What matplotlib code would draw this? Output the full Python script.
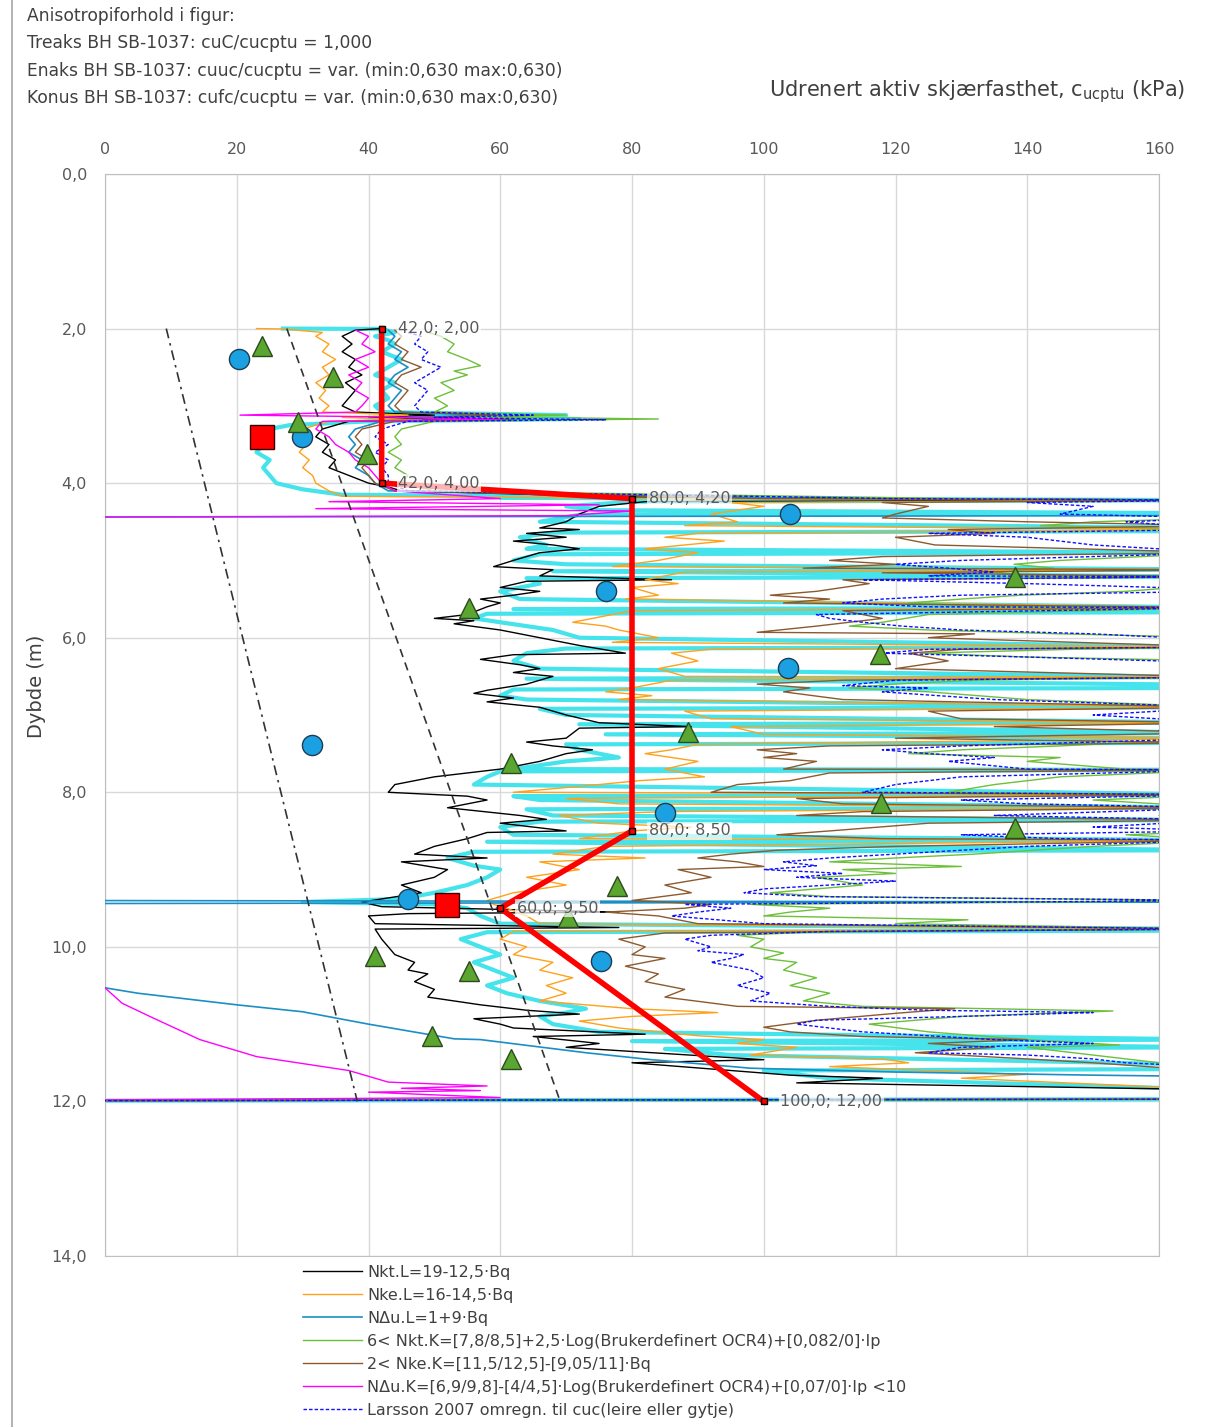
import matplotlib
matplotlib.use("Agg")
import matplotlib.pyplot as plt
from matplotlib.lines import Line2D

# --- data (kPa vs depth m) ---
# each profile: list of (depth, value); 170 / -10 = beyond the axis (off chart)
ekstra_profil = [
    (2.00, 27), (2.005, 42), (2.05, 44), (2.1, 41), (2.15, 43), (2.2, 44), (2.3, 42), (2.4, 45), (2.5, 43),
    (2.6, 41), (2.7, 44), (2.8, 42), (2.9, 43), (3.0, 41), (3.08, 42), (3.12, 70), (3.14, 44), (3.17, 72),
    (3.2, 40), (3.25, 28), (3.3, 25), (3.4, 23), (3.5, 24), (3.6, 23), (3.7, 25), (3.8, 24), (3.9, 25),
    (4.0, 26), (4.08, 30), (4.15, 36), (4.17, 78), (4.19, 60), (4.22, 170), (4.24, 80), (4.3, 70), (4.35, 75),
    (4.39, 170), (4.41, 72), (4.5, 66), (4.58, 170), (4.62, 170), (4.64, 68), (4.7, 63), (4.8, 67), (4.85, 64),
    (4.9, 170), (4.92, 66), (5.0, 62), (5.05, 70), (5.12, 170), (5.14, 68), (5.21, 170), (5.23, 64), (5.3, 66),
    (5.4, 60), (5.5, 63), (5.61, 170), (5.63, 62), (5.67, 170), (5.69, 58), (5.75, 56), (5.8, 60), (5.9, 68),
    (6.0, 72), (6.12, 170), (6.14, 70), (6.2, 64), (6.3, 62), (6.4, 66), (6.51, 170), (6.53, 64), (6.61, 170),
    (6.65, 170), (6.67, 62), (6.75, 60), (6.8, 64), (6.9, 170), (6.92, 66), (7.0, 70), (7.1, 170), (7.12, 72),
    (7.23, 170), (7.25, 76), (7.3, 170), (7.36, 170), (7.38, 70), (7.45, 72), (7.55, 78), (7.6, 70), (7.7, 62),
    (7.71, 170), (7.73, 60), (7.8, 58), (7.9, 56), (8.03, 170), (8.05, 62), (8.1, 66), (8.2, 170), (8.22, 64),
    (8.3, 68), (8.36, 170), (8.38, 66), (8.45, 60), (8.55, 62), (8.62, 170), (8.64, 58), (8.75, 170), (8.77, 56),
    (8.85, 52), (8.95, 56), (9.0, 60), (9.1, 58), (9.2, 55), (9.3, 50), (9.38, 45), (9.42, 30), (9.45, 50),
    (9.5, 55), (9.6, 57), (9.7, 60), (9.77, 170), (9.79, 170), (9.81, 58), (9.9, 54), (10.0, 57), (10.1, 60),
    (10.2, 56), (10.3, 59), (10.4, 62), (10.5, 58), (10.6, 61), (10.7, 66), (10.8, 73), (10.85, 70), (10.9, 66),
    (11.0, 68), (11.1, 75), (11.2, 170), (11.22, 80), (11.3, 170), (11.32, 85), (11.4, 95), (11.53, 170),
    (11.58, 170), (11.6, 100), (11.7, 110), (11.85, 170), (11.93, 170), (11.97, 170), (11.99, 0),
]

nkt_l = [
    (2.0, 42), (2.02, 38), (2.1, 36), (2.2, 37.5), (2.3, 36), (2.4, 38), (2.5, 37), (2.6, 39), (2.7, 36.5),
    (2.8, 38), (2.9, 37), (3.0, 36), (3.08, 38), (3.12, 50), (3.15, 40), (3.18, 55), (3.2, 37), (3.3, 33),
    (3.4, 32), (3.5, 34), (3.6, 33), (3.7, 35), (3.8, 34), (3.9, 37), (4.0, 40), (4.05, 43), (4.1, 45),
    (4.18, 80), (4.2, 120), (4.22, 170), (4.24, 82), (4.3, 75), (4.4, 72), (4.5, 70), (4.58, 66), (4.6, 72),
    (4.65, 64), (4.7, 70), (4.75, 62), (4.8, 68), (4.85, 72), (4.9, 66), (5.0, 62), (5.08, 59), (5.12, 68),
    (5.2, 66), (5.25, 86), (5.27, 64), (5.35, 60), (5.4, 66), (5.45, 62), (5.5, 57), (5.55, 60), (5.6, 58),
    (5.7, 55), (5.75, 50), (5.78, 56), (5.82, 53), (5.9, 60), (6.0, 66), (6.1, 72), (6.2, 79), (6.22, 62),
    (6.28, 57), (6.35, 63), (6.4, 66), (6.45, 62), (6.5, 68), (6.6, 64), (6.68, 58), (6.72, 56), (6.78, 62),
    (6.83, 58), (6.9, 66), (7.0, 70), (7.1, 75), (7.15, 89), (7.17, 72), (7.3, 70), (7.35, 64), (7.4, 68),
    (7.45, 74), (7.5, 70), (7.6, 66), (7.7, 60), (7.8, 50), (7.9, 44), (8.0, 43), (8.05, 55), (8.1, 58),
    (8.2, 52), (8.3, 63), (8.35, 67), (8.4, 60), (8.5, 70), (8.52, 58), (8.6, 55), (8.7, 50), (8.8, 47),
    (8.85, 58), (8.9, 45), (9.0, 52), (9.1, 50), (9.2, 45), (9.3, 48), (9.38, 42), (9.42, 39), (9.48, 42),
    (9.55, 78), (9.57, 46), (9.6, 40), (9.7, 41), (9.75, 78), (9.77, 41), (9.9, 42), (10.0, 43), (10.1, 44),
    (10.2, 47), (10.3, 46), (10.35, 49), (10.45, 47), (10.55, 50), (10.65, 49), (10.75, 57), (10.82, 64),
    (10.87, 72), (10.93, 56), (11.0, 60), (11.05, 62), (11.13, 82), (11.16, 65), (11.25, 75), (11.3, 70),
    (11.46, 100), (11.5, 80), (11.66, 104), (11.7, 118), (11.76, 105), (11.85, 170), (11.97, 170), (11.99, 0),
]

nke_l = [
    (2.0, 23), (2.005, 27), (2.05, 33), (2.1, 32), (2.2, 34), (2.3, 33), (2.4, 35), (2.5, 33), (2.6, 34),
    (2.7, 32), (2.8, 33.5), (2.9, 32.5), (3.0, 34), (3.08, 33), (3.12, 46), (3.15, 36), (3.18, 48), (3.2, 34),
    (3.3, 30), (3.4, 29), (3.5, 30.5), (3.6, 29.5), (3.7, 31), (3.8, 30), (3.9, 31.5), (4.0, 32), (4.1, 34),
    (4.17, 36), (4.2, 90), (4.22, 170), (4.25, 95), (4.3, 100), (4.4, 92), (4.5, 96), (4.55, 88), (4.6, 170),
    (4.65, 90), (4.7, 85), (4.75, 94), (4.8, 88), (4.85, 82), (4.9, 90), (5.0, 84), (5.08, 77), (5.12, 170),
    (5.15, 88), (5.25, 82), (5.3, 87), (5.35, 80), (5.45, 84), (5.5, 79), (5.61, 170), (5.65, 80), (5.75, 74),
    (5.8, 71), (5.85, 76), (5.9, 78), (6.0, 84), (6.06, 77), (6.12, 170), (6.15, 92), (6.2, 86), (6.3, 90),
    (6.4, 84), (6.5, 88), (6.51, 170), (6.55, 86), (6.65, 80), (6.7, 76), (6.75, 83), (6.8, 78), (6.9, 170),
    (6.95, 88), (7.05, 92), (7.1, 170), (7.15, 95), (7.25, 100), (7.3, 170), (7.38, 90), (7.45, 86), (7.5, 82),
    (7.6, 90), (7.7, 85), (7.8, 91), (7.85, 81), (7.9, 75), (8.0, 62), (8.03, 170), (8.08, 70), (8.15, 78),
    (8.2, 170), (8.25, 85), (8.3, 69), (8.4, 75), (8.45, 89), (8.5, 80), (8.6, 72), (8.62, 170), (8.7, 76),
    (8.8, 68), (8.85, 82), (8.9, 66), (9.0, 72), (9.1, 64), (9.2, 70), (9.3, 62), (9.4, 58), (9.45, 59),
    (9.5, 61), (9.6, 64), (9.7, 66), (9.77, 170), (9.8, 62), (9.9, 60), (10.0, 64), (10.1, 62), (10.2, 68),
    (10.3, 66), (10.4, 71), (10.5, 67), (10.6, 70), (10.7, 66), (10.8, 80), (10.85, 93), (10.9, 80),
    (10.96, 72), (11.05, 78), (11.15, 90), (11.2, 100), (11.25, 96), (11.3, 105), (11.4, 98), (11.45, 118),
    (11.5, 122), (11.55, 110), (11.65, 140), (11.7, 130), (11.85, 170), (11.97, 170), (11.99, 0),
]

ndu_l = [
    (2.02, 43), (2.1, 44), (2.2, 43), (2.3, 45), (2.4, 44), (2.5, 46), (2.6, 44), (2.7, 43), (2.8, 45),
    (2.9, 44), (3.0, 43), (3.08, 44), (3.12, 58), (3.15, 46), (3.18, 65), (3.2, 42), (3.3, 38), (3.4, 37),
    (3.5, 38), (3.6, 37), (3.7, 39), (3.8, 38), (3.9, 40), (4.0, 41), (4.1, 43), (4.2, 110), (4.22, 170),
    (4.42, 170), (4.44, -10), (9.4, -10), (9.42, 170), (9.44, -10), (10.5, -10), (10.53, 0),
    (10.6, 5), (10.75, 20), (10.84, 30), (11.0, 40), (11.19, 53), (11.2, 57), (11.37, 73), (11.46, 83),
    (11.57, 98), (11.62, 120), (11.66, 150), (11.68, 170), (11.97, 170), (11.99, 0),
]

nkt_k = [
    (2.05, 49), (2.1, 51), (2.2, 53), (2.3, 52), (2.4, 55), (2.48, 57), (2.55, 53), (2.6, 55), (2.7, 51),
    (2.8, 53), (2.9, 50), (3.0, 52), (3.08, 50), (3.12, 70), (3.14, 55), (3.17, 84), (3.2, 50), (3.3, 45),
    (3.4, 44), (3.5, 45), (3.6, 43), (3.7, 45), (3.8, 44), (3.9, 46), (4.0, 45), (4.1, 50), (4.2, 130),
    (4.22, 170), (4.25, 160), (4.3, 170), (4.45, 170), (4.5, 150), (4.55, 142), (4.6, 170), (4.9, 170),
    (5.0, 145), (5.05, 138), (5.1, 144), (5.15, 135), (5.2, 140), (5.21, 170), (5.3, 170), (5.4, 155),
    (5.45, 139), (5.5, 130), (5.55, 122), (5.6, 135), (5.61, 170), (5.7, 125), (5.8, 118), (5.85, 113),
    (5.9, 125), (5.95, 145), (6.0, 170), (6.12, 170), (6.15, 147), (6.2, 124), (6.25, 140), (6.3, 170),
    (6.51, 170), (6.55, 132), (6.6, 120), (6.65, 113), (6.7, 125), (6.8, 140), (6.9, 170), (7.3, 170),
    (7.4, 145), (7.45, 130), (7.5, 122), (7.55, 145), (7.6, 140), (7.7, 155), (7.71, 170), (7.8, 145),
    (7.9, 135), (8.0, 128), (8.03, 170), (8.1, 150), (8.2, 170), (8.3, 160), (8.36, 170), (8.5, 170),
    (8.55, 155), (8.62, 170), (8.7, 150), (8.8, 132), (8.85, 120), (8.9, 110), (8.96, 130), (9.0, 112),
    (9.05, 120), (9.1, 108), (9.2, 115), (9.3, 101), (9.35, 110), (9.4, 170), (9.45, 98), (9.5, 110),
    (9.55, 104), (9.6, 100), (9.65, 131), (9.7, 120), (9.77, 170), (9.8, 110), (9.85, 96), (9.9, 100),
    (10.0, 98), (10.08, 103), (10.15, 100), (10.2, 105), (10.3, 103), (10.4, 108), (10.5, 104), (10.6, 110),
    (10.7, 106), (10.77, 115), (10.83, 153), (10.9, 130), (11.0, 116), (11.1, 125), (11.2, 140), (11.27, 154),
    (11.3, 140), (11.4, 150), (11.5, 160), (11.56, 170), (11.97, 170), (11.99, 0),
]

nke_k = [
    (2.02, 44), (2.1, 45), (2.2, 44), (2.3, 46), (2.4, 45), (2.5, 48), (2.6, 45), (2.7, 44), (2.8, 46),
    (2.9, 45), (3.0, 44), (3.08, 45), (3.12, 60), (3.15, 48), (3.18, 62), (3.2, 44), (3.3, 39), (3.4, 38),
    (3.5, 39), (3.6, 38), (3.7, 40), (3.8, 39), (3.9, 40), (4.0, 41), (4.1, 44), (4.2, 100), (4.22, 170),
    (4.25, 118), (4.3, 125), (4.4, 120), (4.45, 118), (4.5, 140), (4.55, 170), (4.6, 128), (4.65, 135),
    (4.7, 120), (4.8, 126), (4.9, 170), (4.95, 118), (5.0, 110), (5.05, 120), (5.1, 106), (5.12, 170),
    (5.16, 118), (5.21, 170), (5.25, 112), (5.3, 116), (5.4, 108), (5.45, 101), (5.5, 110), (5.55, 103),
    (5.61, 170), (5.65, 112), (5.75, 118), (5.85, 108), (5.93, 99), (5.95, 132), (6.0, 125), (6.12, 170),
    (6.15, 130), (6.2, 122), (6.3, 128), (6.4, 120), (6.51, 170), (6.55, 112), (6.6, 99), (6.65, 107),
    (6.7, 103), (6.8, 112), (6.9, 170), (6.95, 125), (7.05, 130), (7.1, 170), (7.15, 135), (7.23, 170),
    (7.3, 120), (7.36, 170), (7.4, 110), (7.45, 99), (7.5, 105), (7.55, 100), (7.6, 108), (7.7, 103),
    (7.71, 170), (7.75, 110), (7.85, 104), (7.9, 96), (8.0, 92), (8.03, 170), (8.08, 105), (8.15, 112),
    (8.2, 170), (8.25, 115), (8.3, 105), (8.36, 170), (8.4, 125), (8.5, 110), (8.55, 102), (8.6, 118),
    (8.62, 170), (8.7, 120), (8.75, 102), (8.8, 95), (8.85, 90), (8.9, 96), (8.96, 100), (9.0, 87),
    (9.1, 92), (9.2, 85), (9.3, 89), (9.4, 80), (9.45, 92), (9.5, 88), (9.55, 76), (9.6, 84), (9.7, 90),
    (9.77, 170), (9.82, 85), (9.9, 78), (10.0, 82), (10.1, 80), (10.15, 85), (10.25, 79), (10.35, 84),
    (10.45, 82), (10.55, 88), (10.65, 85), (10.77, 96), (10.8, 129), (10.86, 120), (10.95, 108),
    (11.04, 100), (11.1, 104), (11.16, 115), (11.2, 140), (11.25, 125), (11.3, 135), (11.37, 123),
    (11.45, 140), (11.5, 150), (11.56, 160), (11.6, 170), (11.97, 170), (11.99, 0),
]

ndu_k = [
    (2.02, 38), (2.1, 40), (2.2, 39), (2.3, 41), (2.4, 38), (2.5, 40), (2.6, 37), (2.7, 39), (2.8, 38),
    (2.9, 40), (3.0, 39), (3.08, 38), (3.12, 20.5), (3.14, 40), (3.17, 60), (3.2, 33), (3.3, 32), (3.4, 34),
    (3.5, 35), (3.6, 37), (3.7, 38), (3.8, 40), (3.9, 41), (4.0, 42), (4.1, 44), (4.2, 60), (4.24, 34),
    (4.28, 75), (4.33, 32), (4.36, 80), (4.42, 70), (4.44, -10), (10.5, -10), (10.53, 0),
    (10.73, 2.6), (10.9, 6.8), (11.2, 14.4), (11.42, 23), (11.6, 37), (11.75, 43), (11.8, 58), (11.83, 45),
    (11.86, 57), (11.88, 40), (11.95, 60), (11.98, 0),
]

larsson = [
    (2.05, 46), (2.1, 48), (2.2, 47), (2.3, 49), (2.4, 48), (2.5, 51), (2.6, 49), (2.7, 47), (2.8, 49),
    (2.9, 48), (3.0, 47), (3.08, 48), (3.12, 65), (3.15, 50), (3.18, 76), (3.2, 46), (3.3, 42), (3.4, 41),
    (3.5, 43), (3.6, 41), (3.7, 43), (3.8, 42), (3.9, 43), (4.0, 43), (4.1, 46), (4.2, 120), (4.22, 170),
    (4.25, 140), (4.3, 150), (4.4, 145), (4.45, 170), (4.5, 155), (4.6, 170), (4.65, 125), (4.7, 140),
    (4.8, 150), (4.9, 170), (5.0, 130), (5.05, 120), (5.1, 128), (5.15, 135), (5.2, 125), (5.21, 170),
    (5.25, 115), (5.3, 140), (5.35, 160), (5.4, 170), (5.45, 130), (5.5, 118), (5.55, 112), (5.6, 125),
    (5.61, 170), (5.7, 108), (5.75, 110), (5.8, 115), (5.85, 121), (5.9, 130), (5.95, 150), (6.0, 162),
    (6.12, 170), (6.15, 125), (6.2, 118), (6.25, 140), (6.3, 160), (6.4, 170), (6.51, 170), (6.55, 120),
    (6.62, 112), (6.65, 125), (6.7, 118), (6.8, 135), (6.9, 170), (7.0, 150), (7.1, 170), (7.2, 160),
    (7.3, 170), (7.4, 130), (7.45, 118), (7.5, 125), (7.55, 135), (7.6, 128), (7.7, 140), (7.71, 170),
    (7.8, 130), (7.9, 120), (8.0, 115), (8.03, 170), (8.1, 130), (8.15, 140), (8.2, 170), (8.3, 135),
    (8.36, 170), (8.45, 150), (8.5, 170), (8.55, 130), (8.6, 145), (8.62, 170), (8.7, 140), (8.8, 120),
    (8.85, 110), (8.9, 103), (8.95, 108), (9.0, 100), (9.05, 112), (9.1, 105), (9.15, 120), (9.2, 110),
    (9.25, 100), (9.3, 97), (9.35, 108), (9.4, 170), (9.45, 88), (9.5, 95), (9.55, 90), (9.6, 86),
    (9.7, 100), (9.77, 170), (9.8, 110), (9.85, 92), (9.9, 88), (10.0, 92), (10.05, 90), (10.1, 97),
    (10.15, 95), (10.2, 92), (10.3, 98), (10.4, 100), (10.5, 96), (10.6, 101), (10.7, 98), (10.77, 110),
    (10.82, 125), (10.85, 150), (10.9, 130), (10.95, 108), (11.0, 105), (11.1, 115), (11.2, 135),
    (11.25, 150), (11.3, 130), (11.37, 125), (11.4, 140), (11.45, 150), (11.5, 155), (11.56, 170),
    (11.97, 170), (11.99, 0),
]

# linear reference lines
ref_dashdot_x = [9.3, 38.3]
ref_dashdot_y = [2.0, 12.0]
ref_dash_x = [27.6, 69.1]
ref_dash_y = [2.0, 12.0]

# chosen design profile (red)
design_x = [42.0, 42.0, 80.0, 80.0, 60.0, 100.0]
design_y = [2.00, 4.00, 4.20, 8.50, 9.50, 12.00]

# lab tests
circle_x = [20.3, 29.9, 104.0, 76.1, 103.7, 31.4, 85.0, 46.0, 75.3]
circle_y = [2.39, 3.40, 4.40, 5.39, 6.39, 7.39, 8.27, 9.38, 10.18]
tri_x = [23.8, 34.6, 29.3, 39.8, 138.1, 55.3, 117.6, 88.5, 61.6, 117.8, 138.1, 77.7, 70.3, 41.0, 55.3, 49.6, 61.6]
tri_y = [2.23, 2.63, 3.21, 3.62, 5.21, 5.61, 6.21, 7.22, 7.62, 8.14, 8.46, 9.21, 9.62, 10.12, 10.31, 11.15, 11.45]
square_x = [23.8, 51.9]
square_y = [3.40, 9.46]

legend_labels = [
    "Nkt.L=19-12,5·Bq",
    "Nke.L=16-14,5·Bq",
    "NΔu.L=1+9·Bq",
    "6< Nkt.K=[7,8/8,5]+2,5·Log(Brukerdefinert OCR4)+[0,082/0]·Ip",
    "2< Nke.K=[11,5/12,5]-[9,05/11]·Bq",
    "NΔu.K=[6,9/9,8]-[4/4,5]·Log(Brukerdefinert OCR4)+[0,07/0]·Ip <10",
    "Larsson 2007 omregn. til cuc(leire eller gytje)",
]

header_lines = [
    "Anisotropiforhold i figur:",
    "Treaks BH SB-1037: cuC/cucptu = 1,000",
    "Enaks BH SB-1037: cuuc/cucptu = var. (min:0,630 max:0,630)",
    "Konus BH SB-1037: cufc/cucptu = var. (min:0,630 max:0,630)",
]

# --- figure ---
W, H = 1205, 1427
fig = plt.figure(figsize=(W / 100, H / 100), dpi=100, facecolor="white")
ax = fig.add_axes([105 / W, 1 - 1256 / H, (1159 - 105) / W, (1256 - 174) / H])

fam = ["DejaVu Sans"]
txt_col = "#404040"
tick_col = "#595959"


def xs(p):
    return [v for d, v in p]


def ds(p):
    return [d for d, v in p]


ax.plot(xs(ekstra_profil), ds(ekstra_profil), color="#45e3ec", lw=3.0, zorder=2)
series = [
    (nkt_l, "#000000", "-", 1.0),
    (nke_l, "#ffa11a", "-", 1.0),
    (ndu_l, "#1b8fc4", "-", 1.2),
    (nkt_k, "#6cc03a", "-", 1.0),
    (nke_k, "#8c5a2e", "-", 1.0),
    (ndu_k, "#ff00ff", "-", 1.0),
    (larsson, "#1010ff", (0, (2.5, 1.5)), 1.0),
]
handles = []
for prof, col, ls, lw in series:
    ax.plot(xs(prof), ds(prof), color=col, ls=ls, lw=lw, zorder=3)
    handles.append(Line2D([], [], color=col, ls=ls, lw=lw))

ax.plot(ref_dashdot_x, ref_dashdot_y, color="#333333", lw=1.2, ls=(0, (6, 3, 1.5, 3)), zorder=4)
ax.plot(ref_dash_x, ref_dash_y, color="#333333", lw=1.2, ls=(0, (5, 3.5)), zorder=4)

ax.plot(design_x, design_y, color="#ff0000", lw=4, zorder=6, solid_joinstyle="miter")
ax.plot(design_x, design_y, ls="none", marker="s", ms=5, mfc="#ff0000", mec="#000000", mew=1, zorder=7)
for x, y in zip(design_x, design_y):
    lab = f"{x:.1f}; {y:.2f}".replace(".", ",")
    ax.annotate(lab, (x, y), xytext=(12, 0), textcoords="offset points", ha="left", va="center",
                fontsize=11.5, color=tick_col, family=fam, zorder=9,
                bbox=dict(boxstyle="square,pad=0.1", fc="white", ec="none", alpha=0.7))

ax.plot(circle_x, circle_y, ls="none", marker="o", ms=14.5, mfc="#1ba1e2", mec="#1d3d55", mew=1, zorder=8)
ax.plot(tri_x, tri_y, ls="none", marker="^", ms=15, mfc="#5aa631", mec="#2c4a1c", mew=1, zorder=8)
ax.plot(square_x, square_y, ls="none", marker="s", ms=17, mfc="#ff0000", mec="#3a0000", mew=1, zorder=8)

ax.set_xlim(0, 160)
ax.set_ylim(14, 0)
ax.set_xticks(range(0, 161, 20))
ax.set_yticks(range(0, 15, 2))
ax.set_yticklabels([f"{v:.1f}".replace(".", ",") for v in range(0, 15, 2)])
ax.xaxis.tick_top()
ax.tick_params(axis="both", length=0, labelsize=11.5, labelcolor=tick_col)
ax.tick_params(axis="x", pad=12)
ax.tick_params(axis="y", pad=13)
for lab in ax.get_xticklabels() + ax.get_yticklabels():
    lab.set_family(fam)
ax.grid(True, color="#d9d9d9", lw=1)
ax.set_axisbelow(True)
for sp in ax.spines.values():
    sp.set_color("#bfbfbf")

fig.text(1185 / W, 1 - 92 / H, "Udrenert aktiv skjærfasthet, c$_{\\mathregular{ucptu}}$ (kPa)",
         fontsize=15, color=txt_col, family=fam, ha="right", va="center")
fig.text(37 / W, 1 - 686 / H, "Dybde (m)", rotation=90, fontsize=14, color=txt_col, family=fam,
         ha="center", va="center")

for i, line in enumerate(header_lines):
    fig.text(27 / W, 1 - (16 + 27.3 * i) / H, line, fontsize=12.3, color=txt_col, family=fam,
             ha="left", va="center")

fig.add_artist(Line2D([12 / W, 12 / W], [0, 1], color="#a6a6a6", lw=1.2))

fig.legend(handles, legend_labels, loc="upper left", bbox_to_anchor=(303 / W, 1 - 1265 / H),
           frameon=False, handlelength=3.7, handletextpad=0.3, labelspacing=0.5,
           borderaxespad=0, borderpad=0, labelcolor=txt_col, prop={"family": fam, "size": 11.5})

fig.savefig("out.png", dpi=100, facecolor="white")
